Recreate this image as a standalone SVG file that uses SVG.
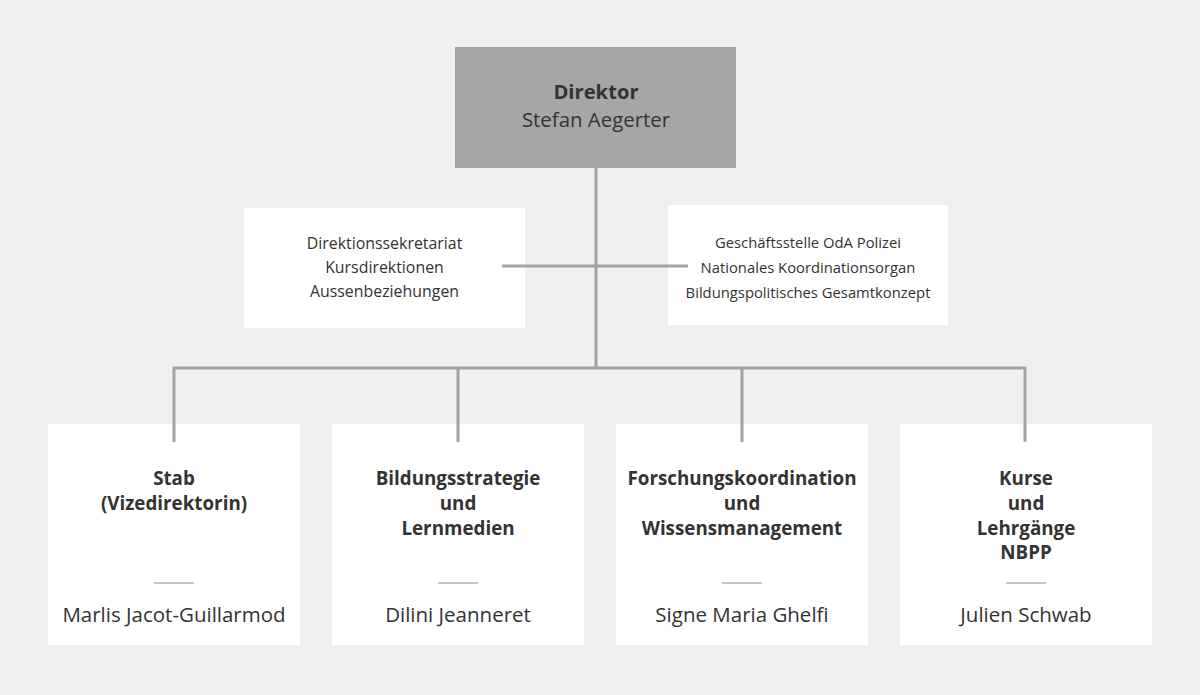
<svg xmlns="http://www.w3.org/2000/svg" width="1200" height="695" viewBox="0 0 1200 695">
<style>
.bg{fill:#f0f0f0}
.box{fill:#ffffff}
.dir{fill:#a6a6a6}
.con{stroke:#a3a3a3;stroke-width:3;fill:none}
.sep{stroke:#c9c5b9;stroke-width:2}
text{font-family:"Open Sans","Noto Sans","Liberation Sans",sans-serif;fill:#333333;text-anchor:middle}
.t{font-weight:bold;font-size:18.8px}
.n{font-size:20.5px}
.s{font-size:14.8px}
.sl{font-size:15.9px}
.d1{font-weight:bold;font-size:20.2px}
.d2{font-size:20.4px}
</style>
<rect class="bg" x="0" y="0" width="1200" height="695"/>
<g id="director">
<rect class="dir" x="455" y="47" width="281" height="121"/>
<text class="d1" x="596" y="99">Direktor</text>
<text class="d2" x="596" y="127">Stefan Aegerter</text>
</g>
<g id="staff-left">
<rect class="box" x="244" y="208" width="281" height="120"/>
<text class="sl" x="384.5" y="249">Direktionssekretariat</text>
<text class="sl" x="384.5" y="273">Kursdirektionen</text>
<text class="sl" x="384.5" y="297">Aussenbeziehungen</text>
</g>
<g id="staff-right">
<rect class="box" x="668" y="205" width="280" height="120"/>
<text class="s" x="808" y="248">Geschäftsstelle OdA Polizei</text>
<text class="s" x="808" y="273">Nationales Koordinationsorgan</text>
<text class="s" x="808" y="298">Bildungspolitisches Gesamtkonzept</text>
</g>
<g id="stab">
<rect class="box" x="48" y="424" width="252" height="221"/>
<text class="t" x="174" y="485">Stab</text>
<text class="t" x="174" y="510">(Vizedirektorin)</text>
<line class="sep" x1="154" y1="583" x2="194" y2="583"/>
<text class="n" x="174" y="622">Marlis Jacot-Guillarmod</text>
</g>
<g id="bildung">
<rect class="box" x="332" y="424" width="252" height="221"/>
<text class="t" x="458" y="485">Bildungsstrategie</text>
<text class="t" x="458" y="510">und</text>
<text class="t" x="458" y="535">Lernmedien</text>
<line class="sep" x1="438" y1="583" x2="478" y2="583"/>
<text class="n" x="458" y="622">Dilini Jeanneret</text>
</g>
<g id="forschung">
<rect class="box" x="616" y="424" width="252" height="221"/>
<text class="t" x="742" y="485">Forschungskoordination</text>
<text class="t" x="742" y="510">und</text>
<text class="t" x="742" y="535">Wissensmanagement</text>
<line class="sep" x1="722" y1="583" x2="762" y2="583"/>
<text class="n" x="742" y="622">Signe Maria Ghelfi</text>
</g>
<g id="kurse">
<rect class="box" x="900" y="424" width="252" height="221"/>
<text class="t" x="1026" y="485">Kurse</text>
<text class="t" x="1026" y="510">und</text>
<text class="t" x="1026" y="535">Lehrgänge</text>
<text class="t" x="1026" y="559">NBPP</text>
<line class="sep" x1="1006" y1="583" x2="1046" y2="583"/>
<text class="n" x="1026" y="622">Julien Schwab</text>
</g>
<g id="connectors">
<line class="con" x1="596" y1="168" x2="596" y2="368"/>
<line class="con" x1="502" y1="266" x2="688" y2="266"/>
<polyline class="con" points="174,442 174,368 1025,368 1025,442"/>
<line class="con" x1="458" y1="368" x2="458" y2="442"/>
<line class="con" x1="742" y1="368" x2="742" y2="442"/>
</g>
</svg>
